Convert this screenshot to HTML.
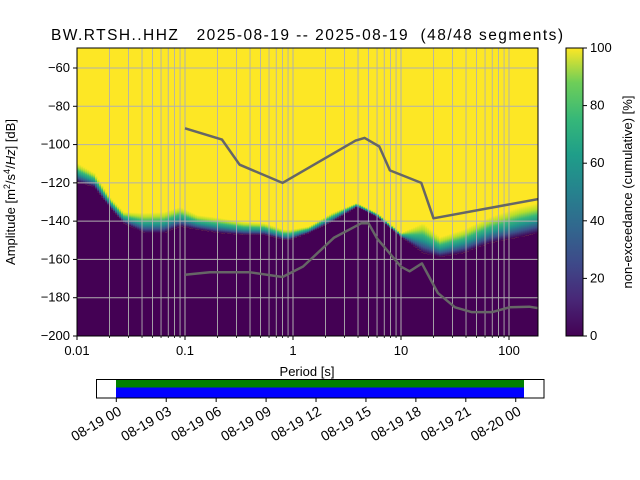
<!DOCTYPE html>
<html><head><meta charset="utf-8"><style>
body{margin:0;background:#fff;}
svg{display:block;font-family:"Liberation Sans","DejaVu Sans",sans-serif;}
</style></head><body>
<svg id="chart" width="640" height="480" viewBox="0 0 640 480" xmlns="http://www.w3.org/2000/svg">
<defs>
<linearGradient id="trans" x1="0" y1="0" x2="0" y2="1">
<stop offset="0" stop-color="#fde725"/><stop offset="0.2" stop-color="#b5de2b"/><stop offset="0.4" stop-color="#35b779"/><stop offset="0.6" stop-color="#21918c"/><stop offset="0.8" stop-color="#3b528b"/><stop offset="1" stop-color="#440154"/>
</linearGradient>
<linearGradient id="cbar" x1="0" y1="1" x2="0" y2="0">
<stop offset="0" stop-color="#440154"/><stop offset="0.13" stop-color="#482878"/><stop offset="0.25" stop-color="#3e4989"/><stop offset="0.38" stop-color="#31688e"/><stop offset="0.5" stop-color="#26828e"/><stop offset="0.63" stop-color="#1f9e89"/><stop offset="0.75" stop-color="#35b779"/><stop offset="0.88" stop-color="#6ece58"/><stop offset="1" stop-color="#fde725"/>
</linearGradient>
<clipPath id="plotclip"><rect x="77" y="48" width="461" height="288"/></clipPath>
</defs>
<text x="51" y="40" font-size="15.5" xml:space="preserve" style="white-space:pre" textLength="512" lengthAdjust="spacing">BW.RTSH..HHZ   2025-08-19 -- 2025-08-19  (48/48 segments)</text>
<g id="plot" clip-path="url(#plotclip)">
<rect x="77" y="48" width="461" height="288" fill="#fde725"/>
<g id="cols"></g>
<g id="grid"></g>
<g id="models"></g>
</g>
<rect x="77" y="48" width="461" height="288" fill="none" stroke="#000" stroke-width="1"/>
<g id="axes"></g>
<text x="307" y="376" font-size="13" text-anchor="middle">Period [s]</text>
<text transform="translate(15,192) rotate(-90)" font-size="13" text-anchor="middle">Amplitude [m<tspan font-size="9" dy="-5">2</tspan><tspan dy="5">/s</tspan><tspan font-size="9" dy="-5">4</tspan><tspan dy="5">/</tspan><tspan font-style="italic">Hz</tspan>] [dB]</text>
<rect x="566" y="48" width="17" height="288" fill="url(#cbar)" stroke="#000" stroke-width="1"/>
<g id="cbticks"></g>
<text transform="translate(632,192) rotate(-90)" font-size="13" text-anchor="middle">non-exceedance (cumulative) [%]</text>
<g>
<rect x="116" y="379" width="408" height="8.5" fill="#008000"/>
<rect x="116" y="387.5" width="408" height="10.5" fill="#0000ff"/>
<rect x="96.5" y="379.5" width="447.5" height="18.5" fill="none" stroke="#000"/>
<g id="tticks"></g>
</g>
</svg>
<script>
const periods=[0.01,0.0144,0.02,0.027,0.042,0.064,0.09,0.13,0.21,0.35,0.54,0.83,0.94,1.4,2.3,3.9,6,10,16,23,38,67,126,186];
const upperDb=[-109.6,-114.8,-127.4,-135.2,-135.7,-135.2,-132.6,-136.8,-138.3,-140.4,-141,-144.4,-144.4,-142.8,-135.7,-130.5,-135.7,-146.2,-141,-148.3,-144.4,-137.8,-132.6,-130.5];
const lowerDb=[-119.5,-122.2,-132.6,-141,-146.2,-146.2,-142.8,-144.4,-146.2,-147.2,-147.2,-149.8,-149.8,-146.2,-140.4,-132.6,-137.8,-148.3,-156.6,-158.7,-156.6,-151.4,-148.3,-146.2];
const nhnmP=[0.1,0.22,0.32,0.8,3.8,4.6,6.3,7.9,15.4,20,186];
const nhnmDb=[-91.5,-97.4,-110.5,-120,-97.9,-96.5,-101,-113.5,-120,-138.5,-128.5];
const nlnmP=[0.1,0.17,0.4,0.8,1.24,2.4,4.3,5,6,10,12,15.6,21.9,31.6,45,70,101,154,186];
const nlnmDb=[-168,-166.7,-166.7,-169.2,-163.7,-148.6,-141.1,-141.1,-149,-163.8,-166.2,-162.1,-177.5,-185,-187.5,-187.5,-185,-184.7,-185.5];
const yTicks=[-60,-80,-100,-120,-140,-160,-180,-200];
const xTickLabels=["0.01","0.1","1","10","100"];
const cbTicks=[0,20,40,60,80,100];
const timeLabels=["08-19 00","08-19 03","08-19 06","08-19 09","08-19 12","08-19 15","08-19 18","08-19 21","08-20 00"];

const NS="http://www.w3.org/2000/svg";
const X0=77,X1=538,Y0=48.9,Y1=336;
const xs=p=>293+108*Math.log10(p);
const ys=d=>68+(-60-d)*(268/140);
function mk(tag,attrs,parent){const e=document.createElementNS(NS,tag);for(const k in attrs)e.setAttribute(k,attrs[k]);parent.appendChild(e);return e;}
function interp(arr,lp){const L=periods.map(Math.log10);for(let i=0;i<L.length-1;i++){if(lp<=L[i+1]){const t=(lp-L[i])/(L[i+1]-L[i]);return arr[i]+t*(arr[i+1]-arr[i]);}}return arr[arr.length-1];}
const cols=document.getElementById('cols');
for(let x=X0;x<X1;x+=2){
  const lp=(x+1-293)/108;
  const u=ys(interp(upperDb,lp)),l=ys(interp(lowerDb,lp));
  const r=mk('rect',{x:x,y:u,width:2.3,height:Math.max(l-u,0.5),fill:'url(#trans)'},cols);
  
  
  const r2=mk('rect',{x:x,y:l,width:2.3,height:Y1-l,fill:'#440154'},cols);
  
  
}
const grid=document.getElementById('grid');
for(let dec=-2;dec<=2;dec++){for(let m=1;m<=9;m++){const p=m*Math.pow(10,dec);const x=xs(p);if(x>X1)break;
  const g=mk('line',{x1:x,x2:x,y1:48,y2:336,stroke:'#b0b0b0','stroke-width':m==1?1:0.9},grid);
  }}
yTicks.forEach(d=>{const g=mk('line',{x1:X0,x2:X1,y1:ys(d),y2:ys(d),stroke:'#b0b0b0','stroke-width':1},grid);
  });
const models=document.getElementById('models');
function poly(P,D,name){const pts=P.map((p,i)=>xs(p).toFixed(1)+','+ys(D[i]).toFixed(1)).join(' ');
  const e=mk('polyline',{points:pts,fill:'none',stroke:'#666666','stroke-width':2.5,'stroke-linejoin':'round'},models);
  }
poly(nhnmP,nhnmDb,'nhnm-line');poly(nlnmP,nlnmDb,'nlnm-line');
const axes=document.getElementById('axes');
yTicks.forEach(d=>{const y=ys(d);mk('line',{x1:X0-4,x2:X0,y1:y,y2:y,stroke:'#000'},axes);
  const t=mk('text',{x:X0-7,y:y+4,'font-size':13,'text-anchor':'end'},axes);t.textContent=String(d).replace('-','\u2212');
  });
xTickLabels.forEach(s=>{const x=xs(parseFloat(s));mk('line',{x1:x,x2:x,y1:336,y2:340,stroke:'#000'},axes);
  const t=mk('text',{x:x,y:355,'font-size':13,'text-anchor':'middle'},axes);t.textContent=s;
  });
for(let dec=-2;dec<=2;dec++){for(let m=2;m<=9;m++){const x=xs(m*Math.pow(10,dec));if(x>X1)break;mk('line',{x1:x,x2:x,y1:336,y2:338,stroke:'#000','stroke-width':0.8},axes);}}
const cbt=document.getElementById('cbticks');
cbTicks.forEach(v=>{const y=336-v*2.88;mk('line',{x1:583,x2:587,y1:y,y2:y,stroke:'#000'},cbt);
  const t=mk('text',{x:590,y:y+4,'font-size':13},cbt);t.textContent=v;
  });
const tt=document.getElementById('tticks');
timeLabels.forEach((s,i)=>{const x=116.3+i*49.93;mk('line',{x1:x,x2:x,y1:398,y2:402,stroke:'#000'},tt);
  const t=mk('text',{transform:`translate(${x+1},${405}) rotate(-30)`,'font-size':14,'text-anchor':'end','dominant-baseline':'hanging'},tt);t.textContent=s;
  });
</script>
</body></html>
